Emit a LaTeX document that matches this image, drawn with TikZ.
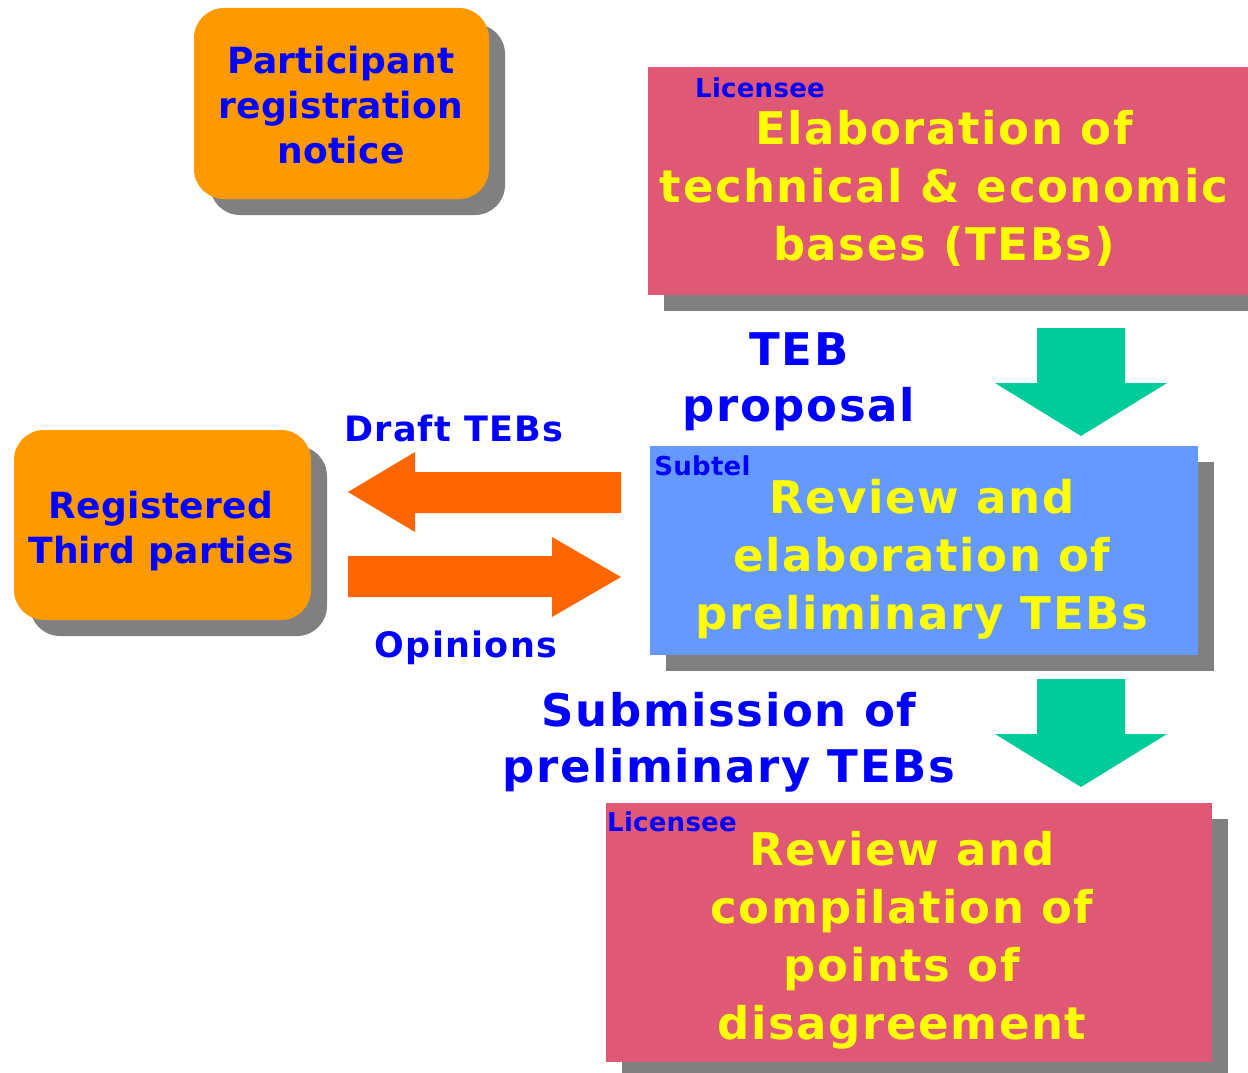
\documentclass[tikz,border=0pt]{standalone}
\usepackage{fontspec}
\newfontfamily\vfa{DejaVu Sans}[LetterSpace=3.5]
\newfontfamily\vfb{DejaVu Sans}[LetterSpace=1]
\usetikzlibrary{shadows}
\definecolor{orangeC}{HTML}{FF9900}
\definecolor{pinkC}{HTML}{DF5875}
\definecolor{blueboxC}{HTML}{6699FF}
\definecolor{greenC}{HTML}{00CC99}
\definecolor{arrowC}{HTML}{FF6600}
\definecolor{txtblue}{HTML}{0000FF}
\definecolor{txtyellow}{HTML}{FFFF00}
\definecolor{shadowC}{HTML}{808080}
\tikzset{
  shad/.style={drop shadow={shadow xshift=16pt, shadow yshift=-16pt, fill=shadowC, opacity=1}},
  roundbox/.style={shad, fill=orangeC, rounded corners=30pt, inner sep=0pt},
  flatbox/.style={shad, inner sep=0pt},
  bigtxt/.style={text=txtyellow, align=center, inner sep=0pt, font=\vfa\bfseries\fontsize{45}{58}\selectfont},
  midtxt/.style={text=txtblue, align=center, inner sep=0pt, font=\vfb\bfseries\fontsize{36}{45}\selectfont},
  lbltxt/.style={text=txtblue, align=center, inner sep=0pt, font=\vfa\bfseries\fontsize{45}{56}\selectfont},
  smalllbl/.style={text=txtblue, align=center, inner sep=0pt, font=\vfa\bfseries\fontsize{35}{40}\selectfont},
  tagtxt/.style={text=txtblue, inner sep=0pt, font=\vfb\bfseries\fontsize{26}{30}\selectfont},
  greenarrow/.style={fill=greenC},
  orangearrow/.style={fill=arrowC},
}
\begin{document}
\begin{tikzpicture}[x=1pt, y=-1pt]
\useasboundingbox (0,0) rectangle (1248,1073);
\fill[white] (0,0) rectangle (1248,1073);

% boxes
\node[roundbox, minimum width=295pt, minimum height=191pt] (part) at (341.5,103.5) {};
\node[roundbox, minimum width=297pt, minimum height=190pt] (third) at (162.5,525) {};
\node[flatbox, fill=pinkC, minimum width=600pt, minimum height=228pt] (teb) at (948,181) {};
\node[flatbox, fill=blueboxC, minimum width=548pt, minimum height=209pt] (subtel) at (924,550.5) {};
\node[flatbox, fill=pinkC, minimum width=606pt, minimum height=259pt] (disag) at (909,932.5) {};

% box texts
\node[midtxt] (partT) at (341,105) {Participant\\registration\\notice};
\node[midtxt] (thirdT) at (161,531) {Registered\\Third parties};
\node[bigtxt] (tebT) at (944,188.5) {Elaboration of\\technical \& economic\\bases (TEBs)};
\node[bigtxt] (subtelT) at (922,559) {Review and\\elaboration of\\preliminary TEBs};
\node[bigtxt] (disagT) at (902,940.5) {Review and\\compilation of\\points of\\disagreement};

% tags
\node[tagtxt] (tag1) at (760,88) {Licensee};
\node[tagtxt] (tag2) at (702.5,466) {Subtel};
\node[tagtxt] (tag3) at (672,822) {Licensee};

% green arrows
\fill[greenarrow] (1037,328) -- (1125,328) -- (1125,383) -- (1167,383) -- (1081,436) -- (995,383) -- (1037,383) -- cycle;
\fill[greenarrow] (1037,679) -- (1125,679) -- (1125,734) -- (1167,734) -- (1081,787) -- (995,734) -- (1037,734) -- cycle;

% orange arrows
\fill[orangearrow] (621,472) -- (415,472) -- (415,452) -- (348,492) -- (415,532) -- (415,513) -- (621,513) -- cycle;
\fill[orangearrow] (348,556) -- (552,556) -- (552,537) -- (621,577) -- (552,617) -- (552,597) -- (348,597) -- cycle;

% labels
\node[lbltxt] (lblTEB) at (799,382) {TEB\\proposal};
\node[smalllbl] (lblDraft) at (454,428) {Draft TEBs};
\node[smalllbl] (lblOpin) at (466,648) {Opinions};
\node[lbltxt] (lblSub) at (729,742) {Submission of\\preliminary TEBs};
\end{tikzpicture}
\end{document}
